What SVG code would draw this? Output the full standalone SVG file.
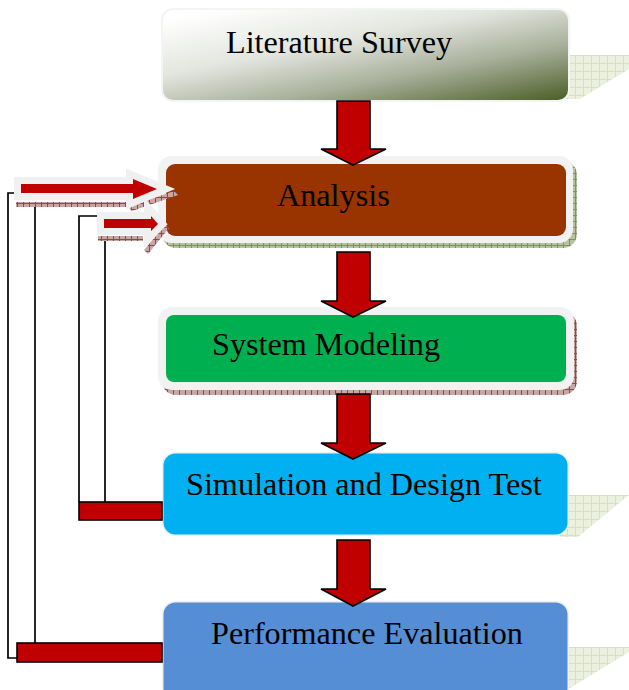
<svg xmlns="http://www.w3.org/2000/svg" width="629" height="690" viewBox="0 0 629 690">
  <style>
    .label { font-family: "Liberation Serif", "Times New Roman", serif; font-size: 32.2px; fill: #000; }
    .down { fill: #c00000; stroke: #000; stroke-width: 1.6; stroke-linejoin: miter; }
    .feed { fill: none; stroke: #000; stroke-width: 1.7; }
    .bar { fill: #c00000; stroke: #000; stroke-width: 1.6; }
    .side { fill: #c00000; stroke: #f0f0f0; stroke-width: 14; stroke-linejoin: miter; stroke-miterlimit: 10; paint-order: stroke; }
    .rim { fill: #f2f2f2; }
  </style>
  <defs>
    <pattern id="gridLight" width="8" height="8" patternUnits="userSpaceOnUse">
      <rect width="8" height="8" fill="#ebf1de"/>
      <path d="M7.5 0V8M0 7.5H8" stroke="#d5e1c0" stroke-width="1"/>
    </pattern>
    <pattern id="gridOlive" width="6" height="6" patternUnits="userSpaceOnUse">
      <rect width="6" height="6" fill="#b7c4a2"/>
      <path d="M5.5 0V6M0 5.5H6" stroke="#7f9160" stroke-width="1"/>
    </pattern>
    <pattern id="gridRose" width="6" height="6" patternUnits="userSpaceOnUse">
      <rect width="6" height="6" fill="#c9a6a6"/>
      <path d="M5.5 0V6M0 5.5H6" stroke="#8c4b4b" stroke-width="1"/>
    </pattern>
    <linearGradient id="surveyFill" x1="0.12" y1="0" x2="1" y2="1">
      <stop offset="0" stop-color="#ffffff"/>
      <stop offset="0.35" stop-color="#e3e6df"/>
      <stop offset="0.65" stop-color="#a8af9a"/>
      <stop offset="1" stop-color="#4b5f26"/>
    </linearGradient>
  </defs>

  <!-- Literature Survey -->
  <g id="node-literature">
    <polygon points="560,55 629,55 629,69 580,99 560,99" fill="url(#gridLight)"/>
    <rect x="161" y="8" width="409" height="94" rx="12" fill="#f4f4f4"/>
    <rect x="163" y="10" width="405" height="90" rx="10" fill="url(#surveyFill)"/>
    <text class="label" x="226" y="53">Literature Survey</text>
  </g>

  <!-- Analysis -->
  <g id="node-analysis">
    <rect x="162" y="161" width="415" height="87" rx="14" fill="url(#gridOlive)"/>
    <rect class="rim" x="158" y="156" width="415" height="87" rx="14"/>
    <rect x="166" y="164" width="400" height="72" rx="9" fill="#993300"/>
    <text class="label" x="277" y="206">Analysis</text>
  </g>

  <!-- System Modeling -->
  <g id="node-modeling">
    <rect x="162" y="312" width="415" height="83" rx="14" fill="url(#gridRose)"/>
    <rect class="rim" x="158" y="307" width="416" height="83" rx="14"/>
    <rect x="166" y="315" width="400" height="67" rx="8" fill="#00b050"/>
    <text class="label" x="212" y="355">System Modeling</text>
  </g>

  <!-- Simulation and Design Test -->
  <g id="node-simulation">
    <polygon points="560,495 629,495 578,537 560,537" fill="url(#gridLight)"/>
    <rect x="162" y="452" width="407" height="84" rx="13" fill="#f0f0f0"/>
    <rect x="163.5" y="453.5" width="404" height="81" rx="12" fill="#00b0f0"/>
    <text class="label" x="186" y="495">Simulation and Design Test</text>
  </g>

  <!-- Performance Evaluation -->
  <g id="node-performance">
    <polygon points="560,647 629,647 629,652 567,690 560,690" fill="url(#gridLight)"/>
    <rect x="162" y="601" width="407" height="100" rx="13" fill="#f0f0f0"/>
    <rect x="163.5" y="602.5" width="404" height="98" rx="12" fill="#558ed5"/>
    <text class="label" x="211" y="644">Performance Evaluation</text>
  </g>

  <!-- Flow arrows and feedback paths -->
  <g id="connectors">
    <!-- downward flow -->
    <polygon class="down" points="337,101 370,101 370,149 386,149 353,165 321,149 337,149"/>
    <polygon class="down" points="337,252 370,252 370,301 386,301 353,317 321,301 337,301"/>
    <polygon class="down" points="337,394 370,394 370,443 386,443 353,459 321,443 337,443"/>
    <polygon class="down" points="337,540 370,540 370,589 386,589 353,606 321,589 337,589"/>

    <!-- feedback lines -->
    <polyline class="feed" points="14,193 8,193 8,658 17,658"/>
    <line class="feed" x1="35" y1="204" x2="35" y2="643"/>
    <polyline class="feed" points="98,216 79,216 79,502"/>
    <line class="feed" x1="105" y1="237" x2="105" y2="502"/>

    <!-- feedback bars -->
    <rect class="bar" x="79" y="502" width="83" height="18"/>
    <rect class="bar" x="17" y="643" width="145" height="19"/>

    <!-- arrow shadows -->
    <rect x="16" y="202" width="110" height="5" fill="url(#gridRose)"/>
    <polygon points="128,207 174,191 178,195 132,211" fill="url(#gridRose)"/>
    <rect x="98" y="236" width="45" height="5" fill="url(#gridRose)"/>
    <polygon points="144,250 165,225 169,228 148,254" fill="url(#gridRose)"/>

    <!-- arrows into Analysis -->
    <polygon class="side" points="21,184 133,184 133,179 157,189 133,199 133,193 21,193"/>
    <polygon class="side" points="104,219 151,219 151,216 158,224 151,231 151,228 104,228"/>
  </g>
</svg>
